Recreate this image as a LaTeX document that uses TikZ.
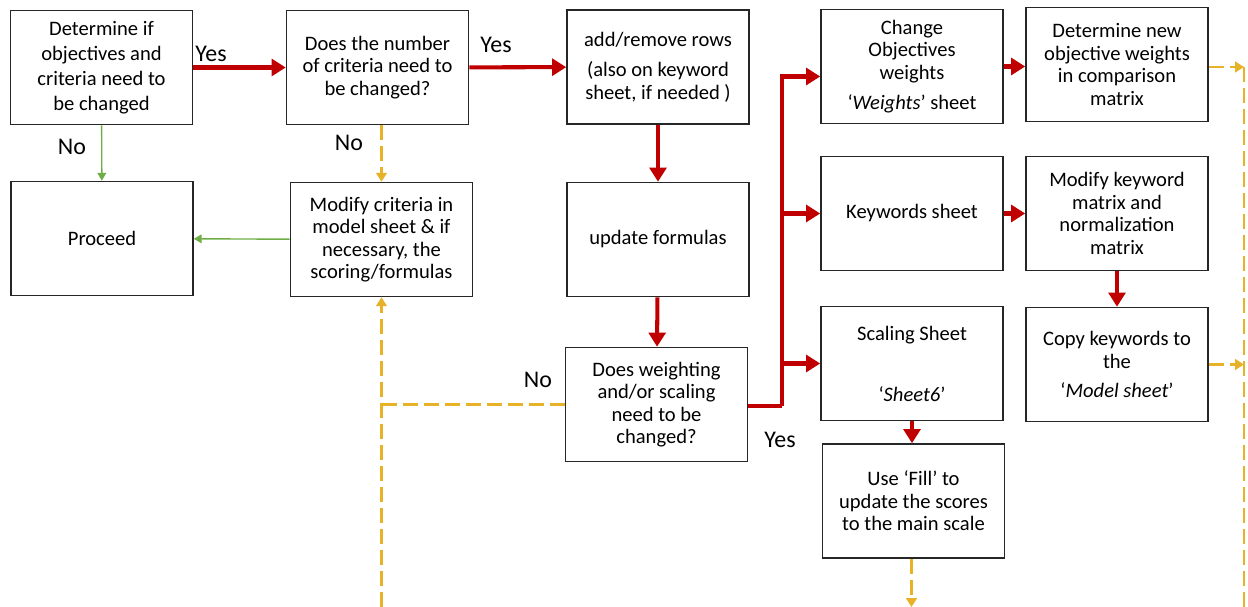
\documentclass[tikz,border=0pt]{standalone}
\usepackage{fontspec}
\setmainfont{Carlito}
\usetikzlibrary{arrows.meta}

\definecolor{darkred}{RGB}{192,0,0}
\definecolor{leafgreen}{RGB}{112,173,71}
\definecolor{gold}{RGB}{232,178,40}

\tikzstyle{box}=[shape=rectangle,draw=black!85,line width=0.9pt,minimum width=3.64cm,minimum height=2.28cm,align=center,font=\fontsize{11.7}{12.8}\selectfont]
\tikzstyle{answer}=[font=\fontsize{13.6}{15}\selectfont]
\tikzstyle{yes}=[draw=darkred,line width=2.3pt,-{Triangle[length=8pt,width=9.5pt]}]
\tikzstyle{yesline}=[draw=darkred,line width=2.3pt]
\tikzstyle{no}=[draw=leafgreen,line width=0.8pt,-{Triangle[length=4.5pt,width=5pt]}]
\tikzstyle{skip}=[draw=gold,line width=1.3pt,dash pattern=on 0.3cm off 0.12cm,-{Triangle[length=5pt,width=6pt]}]
\tikzstyle{skipline}=[draw=gold,line width=1.3pt,dash pattern=on 0.3cm off 0.12cm]

\begin{document}
\begin{tikzpicture}[x=0.02cm,y=-0.02cm]
        \useasboundingbox (0,0) rectangle (1248,607);
        % boxes
        \node[box,font=\fontsize{11.7}{14.2}\selectfont] (objectives) at (101.5,67.5) {Determine if\\objectives and\\criteria need to\\be changed};
        \node[box] (number) at (377.5,67.5) {Does the number\\of criteria need to\\be changed?};
        \node[box] (rows) at (658,67) {add/remove rows\\[4.8pt](also on keyword\\sheet, if needed )};
        \node[box] (formulas) at (658,239.5) {update formulas};
        \node[box] (weighting) at (656.5,404.5) {Does weighting\\and/or scaling\\need to be\\changed?};
        \node[box] (proceed) at (102,238.5) {Proceed};
        \node[box] (modify) at (381.5,239.5) {Modify criteria in\\model sheet \& if\\necessary, the\\scoring/formulas};
        \node[box] (change) at (912,66.5) {Change\\Objectives\\weights\\[4.3pt]`\textit{Weights}' sheet};
        \node[box] (newweights) at (1117,64.5) {Determine new\\objective weights\\in comparison\\matrix};
        \node[box] (keywords) at (912,213.5) {Keywords sheet};
        \node[box] (keymatrix) at (1117,213.5) {Modify keyword\\matrix and\\normalization\\matrix};
        \node[box] (scaling) at (912,363.5) {Scaling Sheet\\[21.9pt]`\textit{Sheet6}'};
        \node[box] (copy) at (1117,364.5) {Copy keywords to\\the\\[3.7pt]`\textit{Model sheet}'};
        \node[box] (fill) at (913.5,501) {Use `Fill' to\\update the scores\\to the main scale};

        % answers
        \node[answer] (yes1) at (211,54) {Yes};
        \node[answer] (yes2) at (496,45) {Yes};
        \node[answer] (yes3) at (780,440) {Yes};
        \node[answer] (no1) at (72,147) {No};
        \node[answer] (no2) at (349,143) {No};
        \node[answer] (no3) at (538,380) {No};

        \coordinate (trunk) at (782,406);
        \coordinate (back) at (381.5,607);
        \coordinate (down) at (911.5,607);
        \coordinate (rtop) at (1244,67);
        \coordinate (rbot) at (1244,607);

        % yes path
        \draw[yes] (objectives) -- (number);
        \draw[yes] (number) -- (rows);
        \draw[yes] (rows) -- (formulas);
        \draw[yes] (formulas) -- (weighting);
        \draw[yesline] (weighting.east |- trunk) -- (trunk);
        \draw[yes] (trunk) |- ([yshift=-0.2cm]change.west);
        \draw[yes] (trunk |- keywords.west) -- (keywords.west);
        \draw[yes] (trunk |- scaling.west) -- (scaling.west);
        \draw[yes] (change.east) -- (change.east -| newweights.west);
        \draw[yes] (keywords) -- (keymatrix);
        \draw[yes] (keymatrix) -- (copy);
        \draw[yes] (scaling.south) -- (scaling.south |- fill.north);

        % no path
        \draw[no] (objectives) -- (proceed);
        \draw[no] (modify) -- (proceed);
        \draw[skip] (modify.north |- number.south) -- (modify.north);
        \draw[skipline] (weighting.west) -- (weighting.west -| back);
        \draw[skip] (back) -- (modify.south);
        \draw[skip] (fill.south -| down) -- (down);
        \draw[skipline] (rtop) -- (rbot);
        \draw[skip] (newweights.east |- rtop) -- (rtop);
        \draw[skip] (copy.east) -- (copy.east -| rtop);
    \end{tikzpicture}
\end{document}
